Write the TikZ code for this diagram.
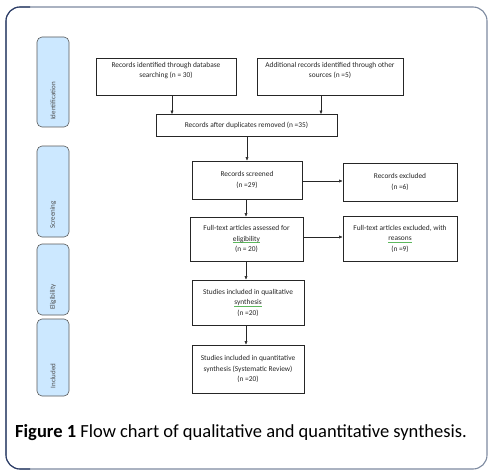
\documentclass[tikz,border=0pt]{standalone}
\usepackage{fontspec}
\setmainfont{Carlito}
\usetikzlibrary{arrows.meta}
\definecolor{frameL}{HTML}{2C3C66}
\definecolor{frameR}{HTML}{7D8AA0}
\definecolor{phasefill}{HTML}{CCE8FF}
\definecolor{sq}{HTML}{5DB85D}
\newcommand{\squig}[1]{\setbox0\hbox{#1}\leavevmode\rlap{\color{sq}\raisebox{-1.6pt}{\rule{\wd0}{0.35pt}}}\box0}
\tikzset{
  box/.style={draw=black!85, line width=0.6pt, align=center, font=\fontsize{7.4}{10.5}\selectfont, text=black!85, inner sep=0pt},
  phase/.style={draw=black!65, fill=phasefill, rounded corners=5pt, line width=0.6pt},
  phasetext/.style={rotate=90, font=\fontsize{7}{8}\selectfont, text=black!70, inner sep=0pt},
  arr/.style={-{Latex[length=3.5pt,width=3pt]}, line width=0.5pt, black!85}
}
\begin{document}
\begin{tikzpicture}[x=1pt,y=-1pt]
\useasboundingbox (0,0) rectangle (495,476);
\fill[white] (0,0) rectangle (495,476);
\draw[frameR, line width=1.1pt, rounded corners=14pt] (6,7) rectangle (487,469);
\draw[frameL, line width=1.1pt, rounded corners=14pt] (30,469) -- (6,469) -- (6,7) -- (30,7);
% phases
\node[phase, minimum width=32pt, minimum height=90pt] (pid) at (53,82) {};
\node[phasetext] (tid) at (53,101) {Identification};
\node[phase, minimum width=32pt, minimum height=91pt] (psc) at (53,191.5) {};
\node[phasetext] (tsc) at (53,215) {Screening};
\node[phase, minimum width=32pt, minimum height=71pt] (pel) at (53,279.5) {};
\node[phasetext] (tel) at (53,297) {Eligibility};
\node[phase, minimum width=32pt, minimum height=77pt] (pin) at (53,357.5) {};
\node[phasetext] (tin) at (53,376) {Included};
% boxes
\node[box, minimum width=140pt, minimum height=37pt] (db) at (166,76.5) {Records identified through database\\searching (n = 30)\\[3pt]};
\node[box, minimum width=146pt, minimum height=37pt] (add) at (330,76.5) {Additional records identified through other\\sources (n =5)\\[3pt]};
\node[box, minimum width=181pt, minimum height=22pt] (dup) at (246.5,125.5) {Records after duplicates removed (n =35)};
\node[box, minimum width=110pt, minimum height=38pt] (scr) at (247,180) {Records screened\\(n =29)};
\node[box, minimum width=114pt, minimum height=38pt] (exc) at (400,182) {Records excluded\\(n =6)};
\node[box, minimum width=113pt, minimum height=44pt] (full) at (246.5,239) {Full-text articles assessed for\\\squig{eligibility}\\(n = 20)};
\node[box, minimum width=114pt, minimum height=45pt] (fexc) at (400,238.5) {Full-text articles excluded, with\\\squig{reasons}\\(n =9)};
\node[box, minimum width=112pt, minimum height=45pt] (qual) at (248,302.5) {Studies included in qualitative\\\squig{synthesis}\\(n =20)};
\node[box, minimum width=112pt, minimum height=48pt] (quan) at (248,369) {Studies included in quantitative\\synthesis (Systematic Review)\\(n =20)};
% arrows
\draw[arr] (db.south -| 172,0) -- (dup.north -| 172,0);
\draw[arr] (add.south -| 321,0) -- (dup.north -| 321,0);
\draw[arr] (dup.south -| 247,0) -- (scr.north -| 247,0);
\draw[arr] (scr.south -| 246,0) -- (full.north -| 246,0);
\draw[arr] (full.south -| 246,0) -- (qual.north -| 246,0);
\draw[arr] (qual.south -| 246,0) -- (quan.north -| 246,0);
\draw[arr] (scr.east |- 0,181) -- (exc.west |- 0,181);
\draw[arr] (full.east |- 0,237) -- (fexc.west |- 0,237);
% caption
\node[anchor=base west, inner sep=0pt, font=\fontsize{18.5}{20}\selectfont] (cap) at (15,437) {\textbf{Figure 1} Flow chart of qualitative and quantitative synthesis.};
\end{tikzpicture}
\end{document}
